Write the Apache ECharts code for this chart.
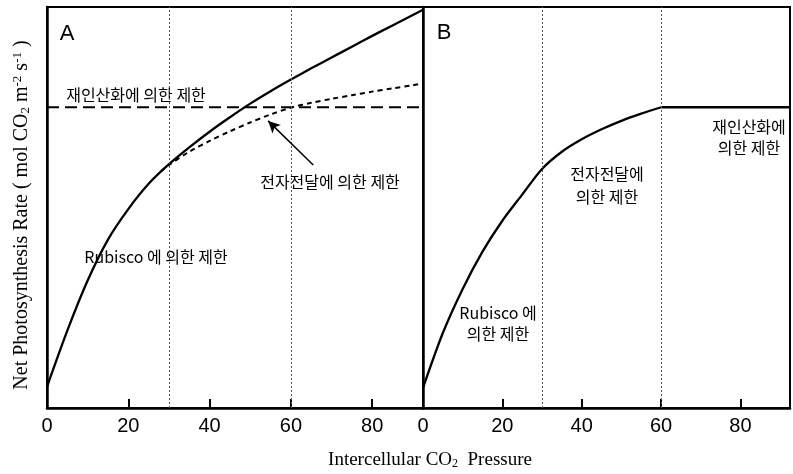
<!DOCTYPE html>
<html>
<head>
<meta charset="utf-8">
<script src="https://cdn.jsdelivr.net/npm/echarts@6/dist/echarts.min.js"></script>
<style>
  html, body { margin: 0; padding: 0; background: #fff; }
  #c { width: 793px; height: 474px; }
</style>
</head>
<body>
<div id="c"></div>
<script>
(() => {
  "use strict";
  // x ticks (CO2 pressure) shared by both panels
  const xTicks = [0, 20, 40, 60, 80];
  const xMax = 92.5;
  const guideX = [30, 60];

  // panel A: Rubisco-limited curve (continues as solid line)
  const xA = [0, 5, 10, 15, 20, 25, 30, 35, 40, 45, 50, 55, 60, 65, 70, 75, 80, 85, 90, 92.5];
  const rubiscoA = [5.3, 19.3, 31.8, 42.0, 49.6, 55.9, 60.8, 65.0, 68.9, 72.5, 75.9, 79.0, 81.9, 84.7, 87.4, 90.1, 92.8, 95.4, 98.0, 99.3];
  // panel A: electron transport limited curve (short dash)
  const xE = [28, 30, 35, 40, 45, 50, 55, 60, 65, 70, 75, 80, 85, 90, 92.5];
  const electronA = [59.0, 60.6, 63.9, 66.6, 69.0, 71.2, 73.2, 74.9, 76.1, 77.1, 78.0, 78.9, 79.7, 80.5, 81.0];
  // panel A: RuBP regeneration limit (long dash, flat)
  const xR = [0, 92.5];
  const regenA = [75, 75];
  // panel B: combined limitation curve, then the flat regeneration plateau
  const xB = [0, 5, 10, 15, 20, 25, 30, 35, 40, 45, 50, 55, 60];
  const limitB = [5.0, 18.7, 29.7, 39.0, 46.7, 53.2, 59.6, 63.9, 67.0, 69.5, 71.6, 73.4, 75.0];
  const xBflat = [60, 92.5];
  const flatB = [75.0, 75.0];
  // arrow from label to electron-transport curve (data coords)
  const arrowFrom = [65.5, 60.6], arrowTo = [54.4, 71.6];

  const KR = "'Noto Sans CJK KR', sans-serif";
  const SERIF = "'Liberation Serif', 'DejaVu Serif', serif";
  const zip = (xs, ys) => xs.map((x, i) => [x, ys[i]]);
  const guides = {
    silent: true, symbol: "none", label: { show: false },
    lineStyle: { color: "#555", width: 1, type: [2, 2] },
    data: guideX.map(v => ({ xAxis: v })),
  };

  const xAxis = idx => ({
    type: "value", gridIndex: idx, min: 0, max: xMax, interval: 20,
    axisLine: { lineStyle: { color: "#000", width: 2.5 } },
    axisTick: { inside: true, length: 9, lineStyle: { color: "#000", width: 2 } },
    axisLabel: {
      color: "#000", fontFamily: "'Liberation Sans Narrow', 'Liberation Sans', Arial, sans-serif",
      fontSize: 20, margin: 8, formatter: v => xTicks.includes(v) ? String(v) : "",
    },
    splitLine: { show: false },
  });
  const yAxis = idx => ({
    type: "value", gridIndex: idx, min: 0, max: 100,
    axisLine: { show: true, lineStyle: { color: "#000", width: 2.5 } },
    axisTick: { show: false }, axisLabel: { show: false }, splitLine: { show: false },
  });

  const txt = (x, y, text, size, font, extra) => ({
    type: "text", x, y, silent: true,
    style: Object.assign({ text, fill: "#000", font: `${size}px ${font}`, align: "center", verticalAlign: "middle" }, extra || {}),
  });

  const solid = { color: "#000", width: 2.3 };
  const chart = echarts.init(document.getElementById("c"));
  chart.setOption({
    animation: false,
    grid: [
      { left: 47, top: 7, width: 376, height: 401, show: true, borderColor: "#000", borderWidth: 2 },
      { left: 423, top: 7, width: 378, height: 401, show: true, borderColor: "#000", borderWidth: 2 },
    ],
    xAxis: [xAxis(0), xAxis(1)],
    yAxis: [yAxis(0), yAxis(1)],
    series: [
      { type: "line", xAxisIndex: 0, yAxisIndex: 0, data: zip(xA, rubiscoA), smooth: 0.3, symbol: "none",
        lineStyle: solid, markLine: guides },
      { type: "line", xAxisIndex: 0, yAxisIndex: 0, data: zip(xR, regenA), symbol: "none",
        lineStyle: { color: "#000", width: 2, type: [12, 6] } },
      { type: "line", xAxisIndex: 0, yAxisIndex: 0, data: zip(xE, electronA), smooth: 0.3, symbol: "none",
        lineStyle: { color: "#000", width: 2, type: [5, 4] },
        markLine: {
          silent: true, symbol: ["none", "arrow"], symbolSize: [9, 12], label: { show: false },
          lineStyle: { color: "#000", width: 1.5, type: "solid" },
          data: [[{ coord: arrowFrom }, { coord: arrowTo }]],
        } },
      { type: "line", xAxisIndex: 1, yAxisIndex: 1, data: zip(xB, limitB), smooth: 0.3, symbol: "none",
        lineStyle: solid, markLine: guides },
      { type: "line", xAxisIndex: 1, yAxisIndex: 1, data: zip(xBflat, flatB), symbol: "none", lineStyle: solid },
    ],
    graphic: [
      txt(67, 34, "A", 22, "'Liberation Sans', Arial, sans-serif"),
      txt(444, 33, "B", 22, "'Liberation Sans', Arial, sans-serif"),
      txt(136, 95, "재인산화에 의한 제한", 16, KR),
      txt(330, 182, "전자전달에 의한 제한", 16, KR),
      txt(156, 257, "Rubisco 에 의한 제한", 16, KR),
      txt(498, 323, "Rubisco 에\n의한 제한", 16, KR, { lineHeight: 21 }),
      txt(607, 185, "전자전달에\n의한 제한", 16, KR, { lineHeight: 23 }),
      txt(749, 137, "재인산화에\n의한 제한", 16, KR, { lineHeight: 21 }),
      {
        type: "text", x: 22, y: 215, rotation: Math.PI / 2, silent: true,
        style: {
          text: "{a|Net Photosynthesis Rate ( mol CO}{s|2}{a| m}{p|-2}{a| s}{p|-1}{a| )}",
          align: "center", verticalAlign: "middle", fill: "#000",
          rich: {
            a: { fontFamily: SERIF, fontSize: 20, fill: "#000" },
            s: { fontFamily: SERIF, fontSize: 13, fill: "#000", verticalAlign: "bottom", padding: [8, 0, 0, 0] },
            p: { fontFamily: SERIF, fontSize: 13, fill: "#000", verticalAlign: "top", padding: [0, 0, 8, 0] },
          },
        },
      },
      {
        type: "text", x: 430, y: 460, silent: true,
        style: {
          text: "{a|Intercellular CO}{s|2}{a|  Pressure}",
          align: "center", verticalAlign: "middle", fill: "#000",
          rich: {
            a: { fontFamily: SERIF, fontSize: 19, fill: "#000" },
            s: { fontFamily: SERIF, fontSize: 12, fill: "#000", verticalAlign: "bottom", padding: [8, 0, 0, 0] },
          },
        },
      },
    ],
  });
})();
</script>
</body>
</html>
